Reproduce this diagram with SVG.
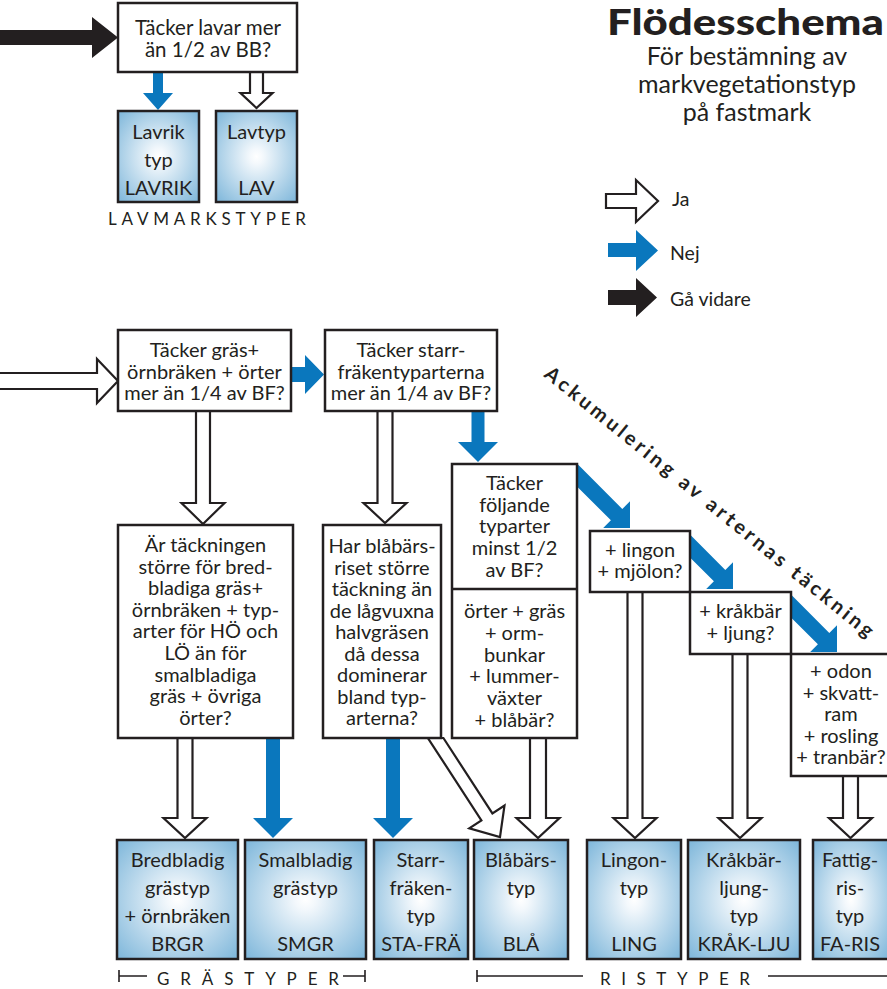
<svg xmlns="http://www.w3.org/2000/svg" width="887" height="989" viewBox="0 0 887 989">
<style>
.box{fill:#fff;stroke:#231f20;stroke-width:2.5}
.res{fill:url(#rg);stroke:#231f20;stroke-width:2.5}
.t{font-family:Lato,"Open Sans",sans-serif;font-size:20px;fill:#231f20;text-anchor:middle}
.rt{font-family:Lato,"Open Sans",sans-serif;font-size:20px;fill:#231f20;text-anchor:middle}
.sub{font-family:Lato,"Open Sans",sans-serif;font-size:25px;fill:#231f20;text-anchor:middle}
.ja{fill:#fff;stroke:#231f20;stroke-width:2.2;stroke-linejoin:miter}
.nej{fill:#0a77bd}
.go{fill:#231f20}
.lbl{font-family:Lato,"Open Sans",sans-serif;font-size:17px;fill:#231f20}
.leg{font-family:Lato,"Open Sans",sans-serif;font-size:19.5px;fill:#231f20}
.ln{stroke:#231f20;stroke-width:1.6;fill:none}
</style>
<defs>
<radialGradient id="rg" cx="50%" cy="50%" r="70%">
<stop offset="0" stop-color="#ffffff"/>
<stop offset="0.12" stop-color="#f3f8fc"/>
<stop offset="1" stop-color="#7db6da"/>
</radialGradient>
</defs>
<rect width="887" height="989" fill="#fff"/>

<g id="title">
<text x="607" y="35" font-family="Lato,'Open Sans',sans-serif" font-weight="900" font-size="36" fill="#231f20" textLength="277" lengthAdjust="spacingAndGlyphs">Flödesschema</text>
<text x="747" y="65" class="sub">För bestämning av</text>
<text x="747" y="93" class="sub">markvegetationstyp</text>
<text x="747" y="121" class="sub">på fastmark</text>
</g>

<g id="legend">
<polygon class="ja" points="606,194 636,194 636,180 658,201 636,222 636,208 606,208"/>
<polygon class="nej" points="608,243 636,243 636,230 658,250.5 636,271 636,257 608,257"/>
<polygon class="go" points="608,290 636,290 636,278 657,297.5 636,317 636,305 608,305"/>
<text x="672" y="206" class="leg">Ja</text>
<text x="670" y="260" class="leg">Nej</text>
<text x="670" y="306" class="leg">Gå vidare</text>
</g>

<g id="connectors">
<polygon class="go" points="-5,30 92,30 92,17 118,37.5 92,58 92,45 -5,45"/>
<polygon class="nej" points="153,72 163,72 163,93 173,93 158,110 143,93 153,93"/>
<polygon class="ja" points="250,72 263,72 263,93 272.5,93 256.5,108 240.5,93 250,93"/>
<polygon class="ja" points="-5,373 97,373 97,359 118,381 97,403 97,389 -5,389"/>
<polygon class="nej" points="291,367 305,367 305,355 324,374.5 305,394 305,382 291,382"/>
<polygon class="ja" points="196,411 210,411 210,503 224.5,503 203,524 181.5,503 196,503"/>
<polygon class="ja" points="377.5,411 392.5,411 392.5,503 406.5,503 385,523 363.5,503 377.5,503"/>
<polygon class="nej" points="471.5,411 484.5,411 484.5,442 498,442 478,462 458,442 471.5,442"/>
<polygon class="nej" points="577,463.6 622.3,508.9 630,501.2 630,528 603.2,528 610.9,520.3 577,486.4"/>
<polygon class="nej" points="690,534.6 725.3,569.9 733,562.2 733,589 706.2,589 713.9,581.3 690,557.4"/>
<polygon class="nej" points="791,594.6 829.3,632.9 837,625.2 837,652 810.2,652 817.9,644.3 791,617.4"/>
<polygon class="ja" points="177.5,738 192.5,738 192.5,818 206.5,818 185,838 163.5,818 177.5,818"/>
<polygon class="nej" points="266,738 280,738 280,818 293,818 273,838 253,818 266,818"/>
<polygon class="nej" points="386,738 400,738 400,818 413,818 393,838 373,818 386,818"/>
<polygon class="ja" points="443.4,738 492.4,813.4 504.5,805.5 500,837 469.3,828.3 481.4,820.4 427.9,738"/>
<polygon class="ja" points="530,738 546,738 546,818 559.5,818 538,838 516.5,818 530,818"/>
<polygon class="ja" points="627.5,592 642.5,592 642.5,818 656.5,818 635,838 613.5,818 627.5,818"/>
<polygon class="ja" points="732.5,654 747.5,654 747.5,818 761.5,818 740,838 718.5,818 732.5,818"/>
<polygon class="ja" points="843,776 858,776 858,818 872,818 850.5,838 829,818 843,818"/>
</g>

<g id="q-lav">
<rect class="box" x="118" y="3" width="179" height="69"/>
<text class="t" style="font-size:20.5px" x="208" y="35">Täcker lavar mer</text>
<text class="t" style="font-size:20.5px" x="208" y="57">än 1/2 av BB?</text>
</g>
<g id="r-lavrik">
<rect class="res" x="118" y="111" width="81" height="91"/>
<text class="rt" x="158.5" y="139">Lavrik</text>
<text class="rt" x="158.5" y="167">typ</text>
<text class="rt" x="158.5" y="195">LAVRIK</text>
</g>
<g id="r-lav">
<rect class="res" x="216" y="111" width="81" height="91"/>
<text class="rt" x="256.5" y="139">Lavtyp</text>
<text class="rt" x="256.5" y="195">LAV</text>
</g>
<text class="lbl" x="108" y="225" textLength="198" lengthAdjust="spacing">LAVMARKSTYPER</text>

<g id="q-gras">
<rect class="box" x="118" y="330" width="173" height="81"/>
<text class="t" x="204.5" y="357">Täcker gräs+</text>
<text class="t" x="204.5" y="378.5">örnbräken + örter</text>
<text class="t" x="204.5" y="400">mer än 1/4 av BF?</text>
</g>
<g id="q-starr">
<rect class="box" x="325" y="330" width="172" height="81"/>
<text class="t" x="411" y="357">Täcker starr-</text>
<text class="t" x="411" y="378.5">fräkentyparterna</text>
<text class="t" x="411" y="400">mer än 1/4 av BF?</text>
</g>

<g id="q-bred">
<rect class="box" x="118" y="525" width="175" height="213"/>
<text class="t" x="205.5" y="552">Är täckningen</text>
<text class="t" x="205.5" y="573.6">större för bred-</text>
<text class="t" x="205.5" y="595.2">bladiga gräs+</text>
<text class="t" x="205.5" y="616.8">örnbräken + typ-</text>
<text class="t" x="205.5" y="638.4">arter för HÖ och</text>
<text class="t" x="205.5" y="660">LÖ än för</text>
<text class="t" x="205.5" y="681.6">smalbladiga</text>
<text class="t" x="205.5" y="703.2">gräs + övriga</text>
<text class="t" x="205.5" y="724.8">örter?</text>
</g>
<g id="q-bla">
<rect class="box" x="323" y="525" width="118" height="213"/>
<text class="t" x="382" y="553">Har blåbärs-</text>
<text class="t" x="382" y="574.5">riset större</text>
<text class="t" x="382" y="596">täckning än</text>
<text class="t" x="382" y="617.5">de lågvuxna</text>
<text class="t" x="382" y="639">halvgräsen</text>
<text class="t" x="382" y="660.5">då dessa</text>
<text class="t" x="382" y="682">dominerar</text>
<text class="t" x="382" y="703.5">bland typ-</text>
<text class="t" x="382" y="725">arterna?</text>
</g>
<g id="q-foljande">
<rect class="box" x="452" y="464" width="125" height="274"/>
<line class="box" x1="452" y1="589" x2="577" y2="589"/>
<text class="t" x="514.5" y="490">Täcker</text>
<text class="t" x="514.5" y="511.7">följande</text>
<text class="t" x="514.5" y="533.4">typarter</text>
<text class="t" x="514.5" y="555.1">minst 1/2</text>
<text class="t" x="514.5" y="576.8">av BF?</text>
<text class="t" x="514.5" y="618">örter + gräs</text>
<text class="t" x="514.5" y="639.8">+ orm-</text>
<text class="t" x="514.5" y="661.6">bunkar</text>
<text class="t" x="514.5" y="683.4">+ lummer-</text>
<text class="t" x="514.5" y="705.2">växter</text>
<text class="t" x="514.5" y="727">+ blåbär?</text>
</g>
<g id="q-lingon">
<rect class="box" x="590" y="531" width="100" height="61"/>
<text class="t" x="640" y="557">+ lingon</text>
<text class="t" x="640" y="578">+ mjölon?</text>
</g>
<g id="q-krak">
<rect class="box" x="690" y="592" width="101" height="62"/>
<text class="t" x="740.5" y="618">+ kråkbär</text>
<text class="t" x="740.5" y="640">+ ljung?</text>
</g>
<g id="q-odon">
<rect class="box" x="791" y="654" width="100" height="122"/>
<text class="t" x="841" y="678">+ odon</text>
<text class="t" x="841" y="699.5">+ skvatt-</text>
<text class="t" x="841" y="721">ram</text>
<text class="t" x="841" y="742.5">+ rosling</text>
<text class="t" x="841" y="764">+ tranbär?</text>
</g>

<text id="ackumulering" x="543" y="376" transform="rotate(39 543 376)" font-family="Lato,'Open Sans',sans-serif" font-weight="bold" font-size="20" fill="#231f20" textLength="417" lengthAdjust="spacing">Ackumulering av arternas täckning</text>

<g id="r-brgr">
<rect class="res" x="117" y="840" width="121" height="119"/>
<text class="rt" x="177.5" y="867">Bredbladig</text>
<text class="rt" x="177.5" y="895">grästyp</text>
<text class="rt" x="177.5" y="923">+ örnbräken</text>
<text class="rt" x="177.5" y="951">BRGR</text>
</g>
<g id="r-smgr">
<rect class="res" x="245" y="840" width="121" height="119"/>
<text class="rt" x="305.5" y="867">Smalbladig</text>
<text class="rt" x="305.5" y="895">grästyp</text>
<text class="rt" x="305.5" y="951">SMGR</text>
</g>
<g id="r-stafra">
<rect class="res" x="374" y="840" width="94" height="119"/>
<text class="rt" x="421" y="867">Starr-</text>
<text class="rt" x="421" y="895">fräken-</text>
<text class="rt" x="421" y="923">typ</text>
<text class="rt" x="421" y="951">STA-FRÄ</text>
</g>
<g id="r-bla">
<rect class="res" x="474" y="840" width="94" height="119"/>
<text class="rt" x="521" y="867">Blåbärs-</text>
<text class="rt" x="521" y="895">typ</text>
<text class="rt" x="521" y="951">BLÅ</text>
</g>
<g id="r-ling">
<rect class="res" x="587" y="840" width="94" height="119"/>
<text class="rt" x="634" y="867">Lingon-</text>
<text class="rt" x="634" y="895">typ</text>
<text class="rt" x="634" y="951">LING</text>
</g>
<g id="r-krak">
<rect class="res" x="688" y="840" width="112" height="119"/>
<text class="rt" x="744" y="867">Kråkbär-</text>
<text class="rt" x="744" y="895">ljung-</text>
<text class="rt" x="744" y="923">typ</text>
<text class="rt" x="744" y="951">KRÅK-LJU</text>
</g>
<g id="r-fa">
<rect class="res" x="813" y="840" width="76" height="119"/>
<text class="rt" x="850" y="867">Fattig-</text>
<text class="rt" x="850" y="895">ris-</text>
<text class="rt" x="850" y="923">typ</text>
<text class="rt" x="850" y="951">FA-RIS</text>
</g>

<g id="group-labels">
<path class="ln" d="M119,970 V982 M119,976 H147 M343,976 H365 M365,970 V982"/>
<text class="lbl" x="157" y="985" textLength="182" lengthAdjust="spacing">GRÄSTYPER</text>
<path class="ln" d="M477,970 V982 M477,976 H583 M768,976 H887"/>
<text class="lbl" x="600" y="985" textLength="150" lengthAdjust="spacing">RISTYPER</text>
</g>
</svg>
